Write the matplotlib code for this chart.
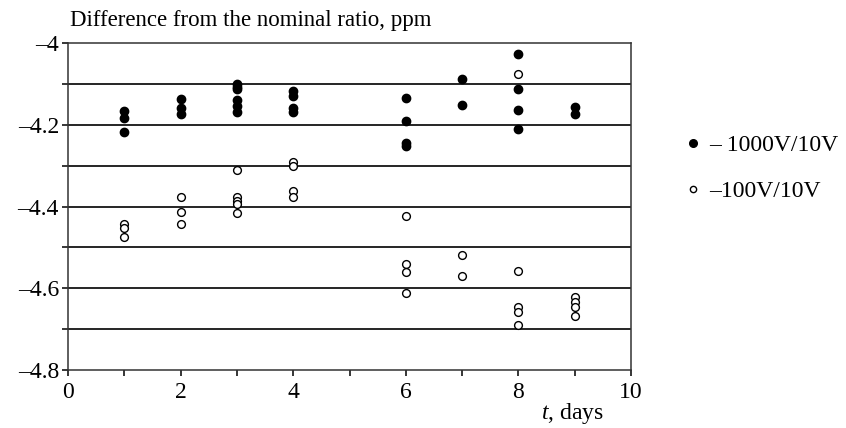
import matplotlib.pyplot as plt
from matplotlib.lines import Line2D
from matplotlib.ticker import MultipleLocator, FuncFormatter

# 1000V/10V (filled) readings per day
days_filled = [1, 1, 1,
               2, 2, 2,
               3, 3, 3, 3, 3, 3,
               4, 4, 4, 4,
               6, 6, 6, 6,
               7, 7,
               8, 8, 8, 8,
               9, 9]
vals_filled = [-4.166, -4.183, -4.218,
               -4.137, -4.159, -4.174,
               -4.101, -4.107, -4.112, -4.139, -4.154, -4.169,
               -4.117, -4.129, -4.158, -4.169,
               -4.135, -4.190, -4.245, -4.251,
               -4.089, -4.152,
               -4.026, -4.113, -4.164, -4.210,
               -4.157, -4.174]

# 100V/10V (open) readings per day
days_open = [1, 1, 1,
             2, 2, 2,
             3, 3, 3, 3, 3,
             4, 4, 4, 4,
             6, 6, 6, 6,
             7, 7,
             8, 8, 8, 8, 8,
             9, 9, 9, 9]
vals_open = [-4.443, -4.453, -4.475,
             -4.376, -4.414, -4.442,
             -4.311, -4.377, -4.386, -4.394, -4.415,
             -4.292, -4.302, -4.361, -4.377,
             -4.422, -4.540, -4.561, -4.611,
             -4.519, -4.570,
             -4.075, -4.557, -4.647, -4.658, -4.691,
             -4.622, -4.633, -4.647, -4.668]

labels = ['\u2013 1000V/10V', '\u2013100V/10V']

plt.rcParams['font.family'] = ['Liberation Serif', 'DejaVu Serif']
plt.rcParams['font.size'] = 17
plt.rcParams['mathtext.fontset'] = 'custom'
plt.rcParams['mathtext.it'] = 'Liberation Serif:italic'
plt.rcParams['mathtext.rm'] = 'Liberation Serif'

fig = plt.figure(figsize=(8.46, 4.28), dpi=100)
ax = fig.add_axes([0.0804, 0.1355, 0.6655, 0.764])

for g in [-4.1, -4.2, -4.3, -4.4, -4.5, -4.6, -4.7]:
    ax.axhline(g, color='black', lw=1.2, zorder=1)

ax.plot(days_filled, vals_filled, 'o', color='black', markersize=6,
        zorder=3)
ax.plot(days_open, vals_open, 'o', markerfacecolor='white',
        markeredgecolor='black', markeredgewidth=1.0, markersize=5.6,
        zorder=3)

ax.set_xlim(0, 10)
ax.set_ylim(-4.8, -4.0)
ax.xaxis.set_major_locator(MultipleLocator(2))
ax.xaxis.set_minor_locator(MultipleLocator(1))
ax.yaxis.set_major_locator(MultipleLocator(0.2))
ax.yaxis.set_minor_locator(MultipleLocator(0.1))

def yfmt(v, pos):
    s = '%g' % round(v, 2)
    return s.replace('-', '\u2013')

ax.yaxis.set_major_formatter(FuncFormatter(yfmt))
ax.tick_params(which='both', direction='out', length=4.5, width=1.1,
               color='black', labelsize=17)
ax.tick_params(axis='x', pad=4)
ax.tick_params(axis='y', pad=2)
for sp in ax.spines.values():
    sp.set_linewidth(1.1)
    sp.set_color('#333333')

fig.text(0.083, 0.953, 'Difference from the nominal ratio, ppm',
         fontsize=16.5, ha='left', va='center')
fig.text(0.64, 0.02, r'$t$' + ', days', fontsize=17,
         ha='left', va='baseline')

handles = [Line2D([], [], ls='', marker='o', color='black', markersize=5.5),
           Line2D([], [], ls='', marker='o', markerfacecolor='white',
                  markeredgecolor='black', markeredgewidth=1.0, markersize=4.5)]
ax.legend(handles, labels, loc='upper left', bbox_to_anchor=(0.812, 0.686),
          bbox_transform=fig.transFigure, frameon=False,
          handlelength=0.5, handletextpad=0.45, labelspacing=1.05,
          fontsize=17, borderpad=0, borderaxespad=0)

fig.savefig('out.png', dpi=100)
